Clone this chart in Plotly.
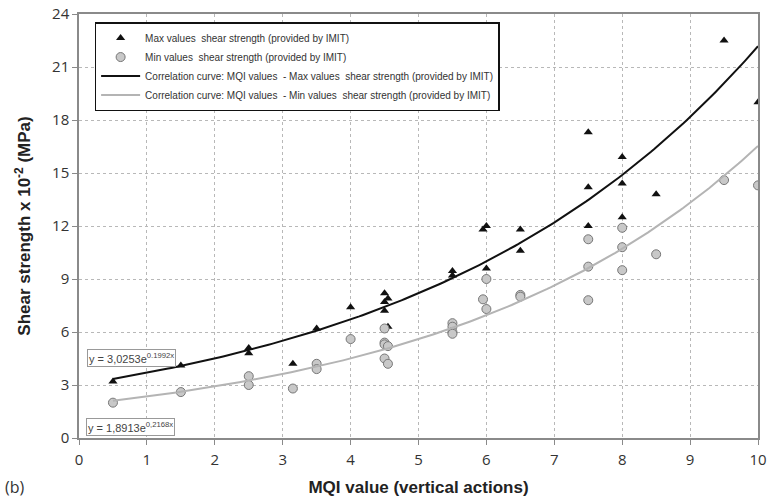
import numpy as np
import plotly.graph_objects as go

# Maximum shear strength values (triangles)
max_mqi = [0.5, 1.5, 2.5, 2.5, 3.15, 3.5, 4.0, 4.5, 4.55, 4.5, 4.5, 4.55,
           5.5, 5.5, 5.95, 6.0, 6.0, 6.5, 6.5, 7.5, 7.5, 7.5, 8.0, 8.0, 8.0,
           8.5, 9.5, 10.0]
max_shear = [3.2, 4.1, 5.1, 4.8, 4.2, 6.2, 7.4, 8.2, 7.9, 7.7, 7.2, 6.3,
             9.45, 9.2, 11.8, 12.0, 9.6, 11.8, 10.6, 17.3, 14.2, 12.0, 15.9, 14.4, 12.5,
             13.8, 22.5, 19.0]

# Minimum shear strength values (circles)
min_mqi = [0.5, 1.5, 2.5, 2.5, 3.15, 3.5, 3.5, 4.0, 4.5, 4.5, 4.5, 4.55, 4.5, 4.55,
           5.5, 5.5, 5.5, 5.5, 5.95, 6.0, 6.0, 6.5, 6.5, 7.5, 7.5, 7.5,
           8.0, 8.0, 8.0, 8.5, 9.5, 10.0]
min_shear = [2.0, 2.6, 3.5, 3.0, 2.8, 4.2, 3.9, 5.6, 6.2, 5.4, 5.3, 5.2, 4.5, 4.2,
             6.5, 6.3, 6.0, 5.9, 7.85, 9.0, 7.3, 8.1, 8.0, 11.25, 9.7, 7.8,
             11.9, 10.8, 9.5, 10.4, 14.6, 14.3]

# Exponential fit coefficients y = a * exp(b * x)
max_fit_a, max_fit_b = 3.0253, 0.1992
min_fit_a, min_fit_b = 1.8913, 0.2168
fit_range = [0.5, 10.0]

x_ticks = list(range(0, 11))
y_ticks = list(range(0, 25, 3))

xf = np.linspace(fit_range[0], fit_range[1], 200)
max_fit = max_fit_a * np.exp(max_fit_b * xf)
min_fit = min_fit_a * np.exp(min_fit_b * xf)

fig = go.Figure()
fig.add_trace(go.Scatter(
    x=max_mqi, y=max_shear, mode="markers",
    name="Max values  shear strength (provided by IMIT)",
    marker=dict(symbol="triangle-up", size=8, color="#111111"),
))
fig.add_trace(go.Scatter(
    x=min_mqi, y=min_shear, mode="markers",
    name="Min values  shear strength (provided by IMIT)",
    marker=dict(symbol="circle", size=9, color="#c8c8c8",
                line=dict(color="#777777", width=1)),
))
fig.add_trace(go.Scatter(
    x=xf, y=max_fit, mode="lines",
    name="Correlation curve: MQI values  - Max values  shear strength (provided by IMIT)",
    line=dict(color="#111111", width=2),
))
fig.add_trace(go.Scatter(
    x=xf, y=min_fit, mode="lines",
    name="Correlation curve: MQI values  - Min values  shear strength (provided by IMIT)",
    line=dict(color="#b4b4b4", width=2),
))

axis_common = dict(
    showline=True, linecolor="#8a8a8a", linewidth=1.5, mirror=True,
    ticks="outside", ticklen=5, tickcolor="#8a8a8a",
    showgrid=True, gridcolor="#b8b8b8", griddash="dot", gridwidth=1,
    zeroline=False, automargin=False,
    tickfont=dict(family="Open Sans", size=15, color="#333333"),
)

fig.update_xaxes(
    range=[0, 10], tickvals=x_ticks, ticklabelstandoff=2, **axis_common,
    title=dict(text="MQI value (vertical actions)", standoff=13,
               font=dict(family="Liberation Sans", size=17, color="#222222", weight="bold")),
)
fig.update_yaxes(
    range=[0, 24], tickvals=y_ticks, **axis_common,
    title=dict(text="Shear strength x 10<sup>-2</sup> (MPa)", standoff=17,
               font=dict(family="Liberation Sans", size=17, color="#222222", weight="bold")),
)

fig.add_annotation(
    x=0.12, y=4.55, xref="x", yref="y", xanchor="left", yanchor="middle",
    text="y = 3,0253e<sup>0.1992x</sup>", showarrow=False,
    font=dict(family="Liberation Sans", size=11, color="#444444"),
    bgcolor="white", bordercolor="#999999", borderwidth=1, borderpad=1,
)
fig.add_annotation(
    x=0.11, y=0.65, xref="x", yref="y", xanchor="left", yanchor="middle",
    text="y = 1,8913e<sup>0,2168x</sup>", showarrow=False,
    font=dict(family="Liberation Sans", size=11, color="#444444"),
    bgcolor="white", bordercolor="#999999", borderwidth=1, borderpad=1,
)
fig.add_annotation(
    x=-0.112, y=-0.115, xref="paper", yref="paper", xanchor="left", yanchor="middle",
    text="(b)", showarrow=False,
    font=dict(family="Open Sans", size=16, color="#333333"),
)

fig.update_layout(
    width=770, height=501,
    margin=dict(l=79, r=12, t=14, b=63),
    paper_bgcolor="white", plot_bgcolor="white",
    showlegend=True,
    legend=dict(
        x=0.023, y=0.981, xanchor="left", yanchor="top",
        bgcolor="white", bordercolor="#111111", borderwidth=1.5,
        font=dict(family="Liberation Sans", size=10, color="#333333"),
        itemwidth=39,
    ),
)

fig.write_html("out.html")
